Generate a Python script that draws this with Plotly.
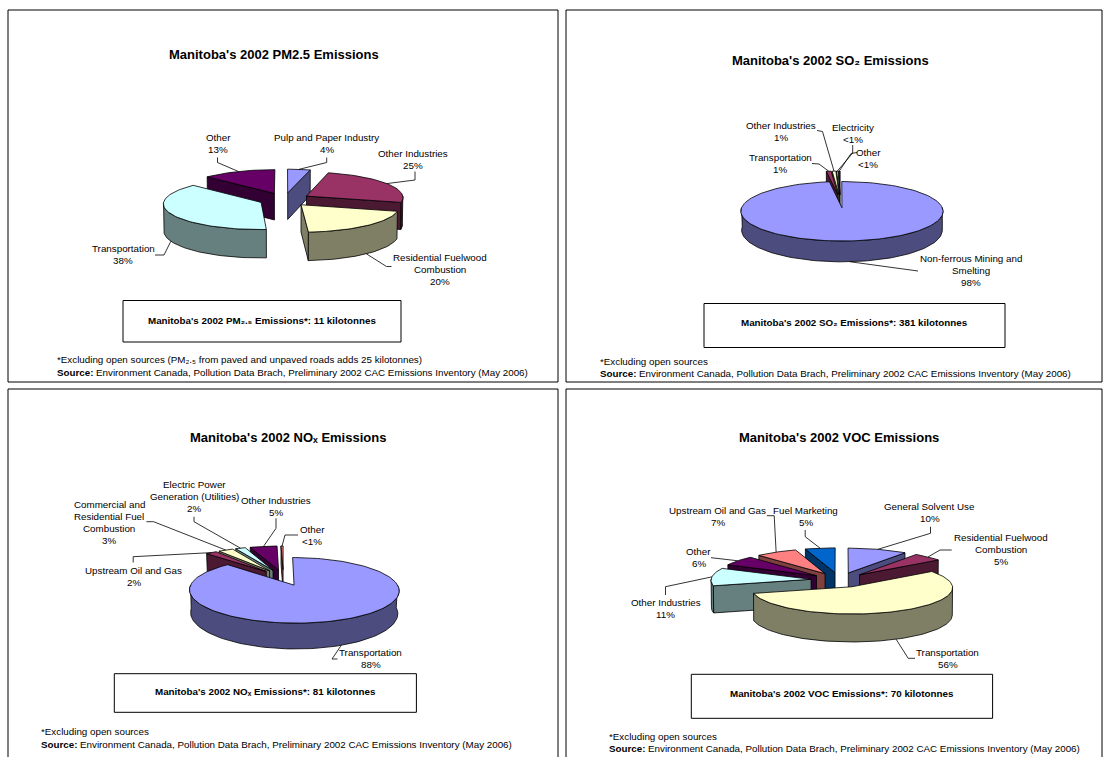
import math
import plotly.graph_objects as go

FONT = "Liberation Sans, Arial, DejaVu Sans, sans-serif"
FIG_W, FIG_H = 1103, 757

# ---------------- emission shares by source (percent of provincial total) ----------------
pm25_sources = ["Pulp and Paper Industry", "Other Industries",
                "Residential Fuelwood\nCombustion", "Transportation", "Other"]
pm25_share = [4, 25, 20, 38, 13]
pm25_total_kt = 11

so2_sources = ["Non-ferrous Mining and\nSmelting", "Transportation",
               "Other Industries", "Electricity", "Other"]
so2_share = [97.8, 0.9, 0.7, 0.3, 0.3]
so2_total_kt = 381

nox_sources = ["Transportation", "Upstream Oil and Gas",
               "Commercial and\nResidential Fuel\nCombustion",
               "Electric Power\nGeneration (Utilities)", "Other Industries", "Other"]
nox_share = [87.6, 2.1, 2.8, 1.9, 5.2, 0.4]
nox_total_kt = 81

voc_sources = ["General Solvent Use", "Residential Fuelwood\nCombustion",
               "Transportation", "Other Industries", "Other",
               "Upstream Oil and Gas", "Fuel Marketing"]
voc_share = [10, 5, 56, 11, 6, 7, 5]
voc_total_kt = 70

SOURCE_HEAD = "Source:"
SOURCE_BODY = ("Environment Canada, Pollution Data Brach, "
               "Preliminary 2002 CAC Emissions Inventory (May 2006)")

# Classic spreadsheet chart fill palette; walls use a half-bright shade
PALETTE = ["#9999FF", "#993366", "#FFFFCC", "#CCFFFF", "#660066", "#FF8080", "#0066CC"]


def darker(hex_color, f=0.5):
    h = hex_color.lstrip("#")
    r, g, b = (int(h[i:i + 2], 16) for i in (0, 2, 4))
    return "#{:02x}{:02x}{:02x}".format(int(r * f), int(g * f), int(b * f))


def pct_text(v, total):
    p = 100.0 * v / total
    return "&lt;1%" if p < 0.5 else "{:d}%".format(int(round(p)))


# ---------------- panel layout (pixel space) ----------------
panels = [
    dict(frame=(8, 10, 558, 382),
         title="Manitoba's 2002 PM2.5 Emissions", title_xy=(274, 54),
         sources=pm25_sources, share=pm25_share,
         pie=dict(cx=284.5, cy=199.5, radius=97, tilt=0.263, persp=0.05, depth=28, explode=25.7),
         labels=[(326.5, 137, [(326.7, 157.5), (326.7, 162.5)]),
                 (413, 153.5, [(415, 171.5), (415, 180)]),
                 (440, 257, [(391.5, 266.5), (386.5, 266.5)]),
                 (123, 248, [(155, 255), (164, 255)]),
                 (218, 137, [(217.5, 157.5), (217.5, 162.5)])],
         box=(123, 300.5, 401, 342),
         box_text="Manitoba's 2002 PM\u2082.\u2085 Emissions*: {} kilotonnes".format(pm25_total_kt),
         box_xy=(262, 320.5),
         note="*Excluding open sources (PM\u2082.\u2085 from paved and unpaved roads adds 25 kilotonnes)",
         notes_xy=(55, 359, 372)),
    dict(frame=(566, 10, 1102, 382),
         title="Manitoba's 2002 SO\u2082 Emissions", title_xy=(830.6, 60),
         sources=so2_sources, share=so2_share,
         pie=dict(cx=840.3, cy=201, radius=97.6, tilt=0.284, persp=0.117, depth=19, explode=23),
         labels=[(970.8, 258.7, [(918, 271)]),
                 (780, 157.7, [(812, 163.5), (819, 164)]),
                 (781, 125, [(817, 130.5), (822.5, 131.5)]),
                 (853.3, 127, [(852.7, 145), (852.7, 153)]),
                 (868, 152, [(857, 152.5), (851, 153.5)])],
         box=(704, 303.5, 1005, 347.5),
         box_text="Manitoba's 2002 SO\u2082 Emissions*: {} kilotonnes".format(so2_total_kt),
         box_xy=(854.8, 322.7),
         note="*Excluding open sources",
         notes_xy=(597.6, 361.7, 373.7)),
    dict(frame=(8, 389, 558, 762),
         title="Manitoba's 2002 NO\u2093 Emissions", title_xy=(288, 437.7),
         sources=nox_sources, share=nox_share,
         pie=dict(cx=283.4, cy=577.4, radius=99.5, tilt=0.297, persp=0.153, depth=22.7, explode=27),
         labels=[(370.5, 652.7, [(337.5, 659), (332, 659)]),
                 (133.6, 570, [(133.2, 562.5), (133.2, 556.7)]),
                 (109.3, 504.3, [(146.4, 521.7), (153.6, 521.7)]),
                 (194.3, 484, [(194, 516.7), (194, 521.7)]),
                 (276.4, 500, [(276, 518.3), (276, 528.3)]),
                 (312, 529, [(298, 535), (285, 535)])],
         box=(114.3, 673.7, 416.4, 712.3),
         box_text="Manitoba's 2002 NO\u2093 Emissions*: {} kilotonnes".format(nox_total_kt),
         box_xy=(265.2, 691.7),
         note="*Excluding open sources",
         notes_xy=(38.6, 731.7, 744)),
    dict(frame=(566, 389, 1102, 762),
         title="Manitoba's 2002 VOC Emissions", title_xy=(839, 437.7),
         sources=voc_sources, share=voc_share,
         pie=dict(cx=839.5, cy=580, radius=100, tilt=0.26, persp=0.03, depth=28, explode=28.6),
         labels=[(929.8, 506.7, [(930.5, 526.7), (930.5, 533.3)]),
                 (1000.8, 537.7, [(951.7, 550), (940, 550)]),
                 (947.5, 652.7, [(915, 658.3), (908.2, 658.3)]),
                 (665.7, 602.7, [(665.5, 595), (665.5, 586.7)]),
                 (698.8, 551.7, [(711, 557.7)]),
                 (717.8, 510, [(766.8, 515.7), (774.2, 515.7)]),
                 (805.7, 510, [(805.2, 530), (805.2, 536.7)])],
         box=(691.3, 674.3, 992.6, 718.3),
         box_text="Manitoba's 2002 VOC Emissions*: {} kilotonnes".format(voc_total_kt),
         box_xy=(841.8, 693.7),
         note="*Excluding open sources",
         notes_xy=(606.9, 736.7, 748.3)),
]


# ---------------- 3-D exploded pie geometry ----------------
def pie_slices(share, pie):
    """Return slice faces and label anchor points for an exploded 3-D pie."""
    total = float(sum(share))
    sa = pie["tilt"]
    ca = math.sqrt(1 - sa * sa)
    dist = pie["radius"] * ca / pie["persp"] if pie["persp"] > 0 else None
    R, depth, ex = pie["radius"], pie["depth"], pie["explode"]

    def project(X, Y, Z):
        yc = Y * ca - Z * sa
        zc = Y * sa + Z * ca
        s = 1.0 if dist is None else dist / (dist - zc)
        return pie["cx"] + X * s, pie["cy"] - yc * s

    slices = []
    start = 0.0
    for i, v in enumerate(share):
        sweep = 2 * math.pi * v / total
        a1, a2 = start, start + sweep
        start = a2
        m = 0.5 * (a1 + a2)
        ox, oz = ex * math.sin(m), -ex * math.cos(m)

        def pt(phi, r, Y, ox=ox, oz=oz):
            return project(ox + r * math.sin(phi), Y, oz - r * math.cos(phi))

        def arc(b1, b2, Y, pt=pt):
            n = max(2, int(math.degrees(b2 - b1) / 2) + 2)
            return [pt(b1 + (b2 - b1) * k / (n - 1), R, Y) for k in range(n)]

        faces = []
        wall_col = darker(PALETTE[i])
        top_col = PALETTE[i]
        apex_t, apex_b = pt(0, 0, 0), pt(0, 0, -depth)
        # cut faces that turn towards the viewer
        if math.sin(a1) < -1e-6:
            faces.append((wall_col, [apex_t, pt(a1, R, 0), pt(a1, R, -depth), apex_b]))
        if math.sin(a2) > 1e-6:
            faces.append((wall_col, [apex_t, pt(a2, R, 0), pt(a2, R, -depth), apex_b]))
        # front part of the rim
        b1, b2 = max(a1, math.pi / 2), min(a2, 3 * math.pi / 2)
        if b2 > b1:
            faces.append((wall_col, arc(b1, b2, 0) + arc(b1, b2, -depth)[::-1]))
        # top face
        if sweep < 2 * math.pi - 1e-9:
            faces.append((top_col, [apex_t] + arc(a1, a2, 0)))
        else:
            faces.append((top_col, arc(0, 2 * math.pi, 0)))

        half = sweep / 2
        rc = (2 * R / 3) * (math.sin(half) / half if half > 0 else 1)
        zc = oz - rc * math.cos(m)
        level = 0 if math.cos(m) > 0 else -depth
        anchor = pt(m, R, level)
        slices.append(dict(z=zc, faces=faces, anchor=anchor))
    return slices


fig = go.Figure()
annotations = []
shapes = []


def add_text(x, y, text, size=9.8, anchor="center", weight="normal"):
    annotations.append(dict(x=x, y=y, xref="x", yref="y", text=text, showarrow=False,
                            xanchor=anchor, yanchor="middle", align=anchor,
                            font=dict(family=FONT, size=size, color="#000000", weight=weight)))


for p in panels:
    sl = pie_slices(p["share"], p["pie"])
    for s in sorted(sl, key=lambda d: d["z"]):
        for col, poly in s["faces"]:
            xs = [q[0] for q in poly] + [poly[0][0]]
            ys = [q[1] for q in poly] + [poly[0][1]]
            fig.add_trace(go.Scatter(x=xs, y=ys, mode="lines", fill="toself", fillcolor=col,
                                     line=dict(color="#000000", width=0.8),
                                     hoverinfo="skip", showlegend=False))
    total = sum(p["share"])
    for idx, (name, v) in enumerate(zip(p["sources"], p["share"])):
        tx, ty, leader = p["labels"][idx]
        lines = name.split("\n") + [pct_text(v, total)]
        for j, line in enumerate(lines):
            add_text(tx, ty + 12 * j, line)
        path = leader + [sl[idx]["anchor"]]
        fig.add_trace(go.Scatter(x=[q[0] for q in path], y=[q[1] for q in path], mode="lines",
                                 line=dict(color="#000000", width=0.8),
                                 hoverinfo="skip", showlegend=False))

    x0, y0, x1, y1 = p["frame"]
    shapes.append(dict(type="rect", xref="x", yref="y", x0=x0, y0=y0, x1=x1, y1=y1,
                       line=dict(color="#000000", width=1), fillcolor="rgba(0,0,0,0)", layer="below"))
    bx0, by0, bx1, by1 = p["box"]
    shapes.append(dict(type="rect", xref="x", yref="y", x0=bx0, y0=by0, x1=bx1, y1=by1,
                       line=dict(color="#000000", width=1), fillcolor="rgba(0,0,0,0)"))
    add_text(p["title_xy"][0], p["title_xy"][1], p["title"], size=13, weight="bold")
    add_text(p["box_xy"][0], p["box_xy"][1], p["box_text"], size=9.8, weight="bold")
    nx, ny1, ny2 = p["notes_xy"]
    add_text(nx, ny1, p["note"], size=9.8, anchor="left")
    add_text(nx, ny2, SOURCE_HEAD, size=9.8, anchor="left", weight="bold")
    add_text(nx + 39, ny2, SOURCE_BODY, size=9.8, anchor="left")

fig.update_layout(
    width=FIG_W, height=FIG_H, autosize=False,
    margin=dict(l=0, r=0, t=0, b=0, pad=0),
    paper_bgcolor="#FFFFFF", plot_bgcolor="#FFFFFF",
    xaxis=dict(range=[0, FIG_W], visible=False, fixedrange=True),
    yaxis=dict(range=[FIG_H, 0], visible=False, fixedrange=True),
    annotations=annotations, shapes=shapes, showlegend=False,
)

fig.write_html("out.html")
